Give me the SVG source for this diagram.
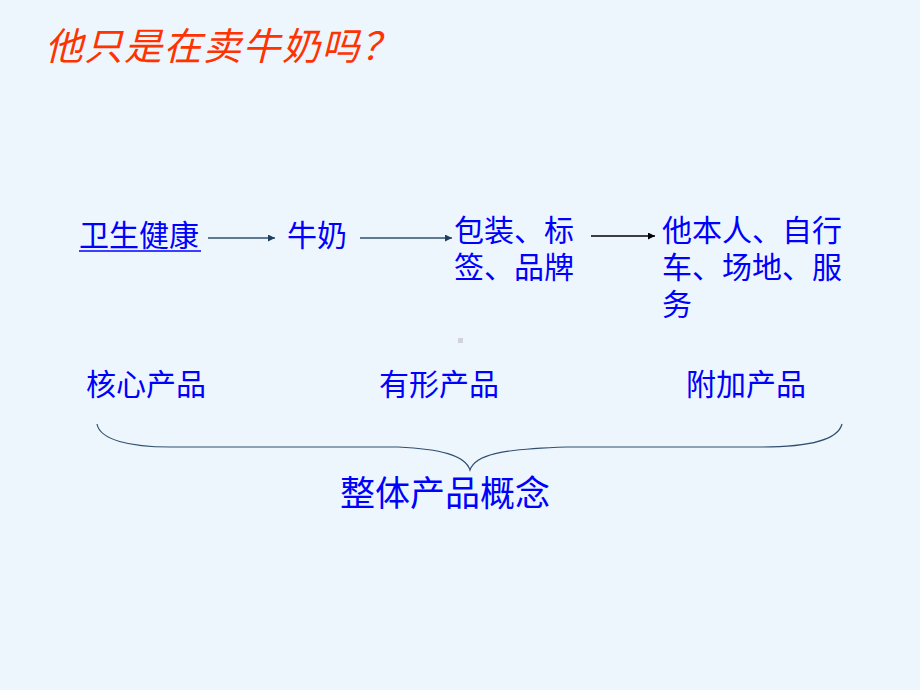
<svg xmlns="http://www.w3.org/2000/svg" width="920" height="690" viewBox="0 0 920 690">
<defs>
<style>
.t{font-family:"Noto Sans CJK SC","Noto Sans",sans-serif;fill:#0000FF;font-size:30px}
.title{font-family:"Noto Sans CJK SC","Noto Sans",sans-serif;fill:#FF3300;font-size:38px;font-style:italic;letter-spacing:1.5px}
.big{font-size:35px}
.conn{stroke:#2F4F6F;stroke-width:1.5;fill:none}
</style>
<marker id="ah" viewBox="0 0 10 10" refX="10" refY="5" markerWidth="7" markerHeight="7" orient="auto" markerUnits="userSpaceOnUse"><path d="M0,0 L10,5 L0,10 z" fill="#1F3F5F"/></marker>
<marker id="ahk" viewBox="0 0 10 10" refX="10" refY="5" markerWidth="7" markerHeight="7" orient="auto" markerUnits="userSpaceOnUse"><path d="M0,0 L10,5 L0,10 z" fill="#000"/></marker>
</defs>
<rect width="920" height="690" fill="#EEF6FD"/>
<g id="title"><text class="title" x="45" y="60">他只是在卖牛奶吗？</text></g>
<g id="connectors">
<line class="conn" x1="208" y1="238" x2="275" y2="238" marker-end="url(#ah)"/>
<line class="conn" x1="360" y1="238" x2="452" y2="238" marker-end="url(#ah)"/>
<line x1="591" y1="236" x2="655" y2="236" stroke="#000" stroke-width="1.5" marker-end="url(#ahk)"/>
<path d="M97,424 C100,440 130,447 170,447 L398,447 C440,449 465,455 470,470 C475,455 500,449 567,447 L761,447 C810,447 838,440 842,424" fill="none" stroke="#2F4F6F" stroke-width="1.2"/>
</g>
<g id="n-health"><text class="t" x="79" y="246">卫生健康</text><line x1="79" y1="251" x2="201" y2="251" stroke="#0000FF" stroke-width="1.5"/></g>
<g id="n-milk"><text class="t" x="287" y="246">牛奶</text></g>
<g id="n-pack"><text class="t" x="454" y="241">包装、标</text><text class="t" x="454" y="278">签、品牌</text></g>
<g id="n-extra"><text class="t" x="662" y="241">他本人、自行</text><text class="t" x="662" y="278">车、场地、服</text><text class="t" x="662" y="315">务</text></g>
<rect x="458" y="338" width="5" height="5" fill="#D0D4DA"/>
<g id="n-core"><text class="t" x="86" y="395">核心产品</text></g>
<g id="n-tangible"><text class="t" x="379" y="395">有形产品</text></g>
<g id="n-addon"><text class="t" x="686" y="395">附加产品</text></g>
<g id="n-total"><text class="t big" x="340" y="506">整体产品概念</text></g>
</svg>
